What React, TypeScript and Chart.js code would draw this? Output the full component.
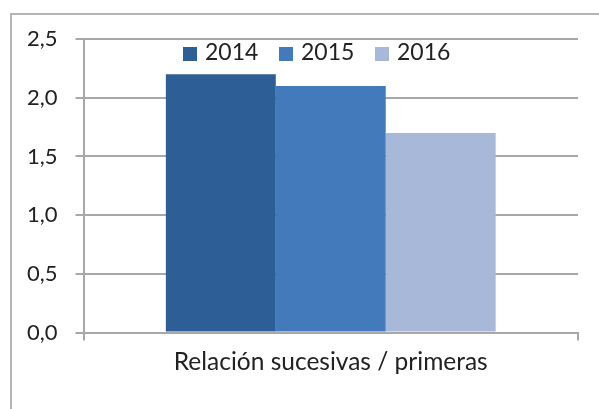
import React, { useEffect, useRef } from "react";
import { Chart, registerables } from "chart.js";

Chart.register(...registerables);

const categories = ["Relación sucesivas / primeras"];
const seriesLabels = ["2014", "2015", "2016"];
const values2014 = [2.2];
const values2015 = [2.1];
const values2016 = [1.7];
const seriesColors = ["#2E5E96", "#437ABC", "#A8B8D8"];
const yMin = 0;
const yMax = 2.5;
const yStep = 0.5;

const FONT = "Lato, 'Open Sans', sans-serif";
const TEXT = "#222222";
const GRID = "#a8a8a8";

const legendPlugin = {
  id: "innerLegend",
  afterDraw(chart: any) {
    const ctx = chart.ctx;
    const ds = chart.data.datasets;
    ctx.save();
    ctx.font = `23px ${FONT}`;
    ctx.textBaseline = "middle";
    ctx.textAlign = "left";
    const box = 14;
    const gap = 8;
    const step = 96;
    const x0 = 183;
    const yMid = 53;
    ds.forEach((d: any, i: number) => {
      const x = x0 + i * step;
      ctx.fillStyle = d.backgroundColor;
      ctx.fillRect(x, yMid - 6, box, box);
      ctx.fillStyle = TEXT;
      ctx.fillText(d.label, x + box + gap, yMid);
    });
    ctx.restore();
  },
};

export default function App() {
  const ref = useRef<HTMLCanvasElement | null>(null);
  useEffect(() => {
    if (!ref.current) return;
    const chart = new Chart(ref.current, {
      type: "bar",
      data: {
        labels: categories,
        datasets: [
          { label: seriesLabels[0], data: values2014, backgroundColor: seriesColors[0] },
          { label: seriesLabels[1], data: values2015, backgroundColor: seriesColors[1] },
          { label: seriesLabels[2], data: values2016, backgroundColor: seriesColors[2] },
        ],
      },
      options: {
        animation: false,
        responsive: false,
        maintainAspectRatio: false,
        layout: { padding: { left: 9, right: 21, top: 39, bottom: 25 } },
        datasets: { bar: { barPercentage: 1, categoryPercentage: 0.667 } },
        plugins: { legend: { display: false }, tooltip: { enabled: false } },
        scales: {
          x: {
            grid: { drawOnChartArea: false, drawTicks: true, tickLength: 8, color: GRID, lineWidth: 2 },
            border: { display: true, color: GRID, width: 2 },
            ticks: { font: { family: FONT, size: 24.5 }, color: TEXT, padding: 7 },
          },
          y: {
            min: yMin,
            max: yMax,
            grid: { color: GRID, lineWidth: 2, tickLength: 8 },
            border: { display: true, color: GRID, width: 2 },
            ticks: {
              stepSize: yStep,
              font: { family: FONT, size: 22 },
              color: TEXT,
              padding: 18,
              callback: (v: any) => Number(v).toFixed(1).replace(".", ","),
            },
          },
        },
      },
      plugins: [legendPlugin],
    });
    return () => chart.destroy();
  }, []);
  return (
    <div style={{ position: "absolute", left: 0, top: 0, width: 599, height: 409, background: "#fff", overflow: "hidden" }}>
      <div
        style={{
          position: "absolute",
          left: 10,
          top: 13,
          width: 620,
          height: 420,
          border: "2px solid #b5b5b5",
          boxSizing: "border-box",
        }}
      />
      <canvas ref={ref} width={599} height={409} style={{ position: "absolute", left: 0, top: 0 }} />
    </div>
  );
}
